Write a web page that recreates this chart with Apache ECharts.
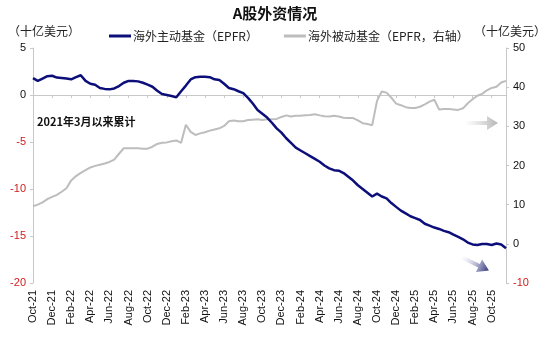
<!DOCTYPE html>
<html>
<head>
<meta charset="utf-8">
<script src="https://cdn.jsdelivr.net/npm/echarts@6/dist/echarts.min.js"></script>
<style>html,body{margin:0;padding:0;background:#fff}#c{width:550px;height:341px}</style>
</head>
<body>
<div id="c"></div>
<script>
const months = ['Oct-21','Nov-21','Dec-21',
'Jan-22','Feb-22','Mar-22','Apr-22','May-22','Jun-22','Jul-22','Aug-22','Sep-22','Oct-22','Nov-22','Dec-22',
'Jan-23','Feb-23','Mar-23','Apr-23','May-23','Jun-23','Jul-23','Aug-23','Sep-23','Oct-23','Nov-23','Dec-23',
'Jan-24','Feb-24','Mar-24','Apr-24','May-24','Jun-24','Jul-24','Aug-24','Sep-24','Oct-24','Nov-24','Dec-24',
'Jan-25','Feb-25','Mar-25','Apr-25','May-25','Jun-25','Jul-25','Aug-25','Sep-25','Oct-25','Nov-25'];
// two points per month (1st and mid-month)
const categories = [];
months.forEach(m => { categories.push(m); categories.push(m + ' '); });

// 海外主动基金（EPFR）, left axis, 十亿美元
const activeFund = [
1.8,1.5,1.75,2.0,2.05,1.85,1.8,1.75,1.67,1.9,
2.1,1.5,1.2,1.1,0.75,0.65,0.6,0.7,0.95,1.3,
1.5,1.5,1.45,1.3,1.1,0.88,0.45,0.1,0.0,-0.1,
-0.25,0.4,1.0,1.65,1.9,1.95,1.95,1.9,1.67,1.6,
1.2,0.75,0.62,0.4,0.2,-0.3,-0.9,-1.6,-2.0,-2.4,
-2.95,-3.55,-4.0,-4.6,-5.1,-5.6,-5.9,-6.2,-6.5,-6.8,
-7.1,-7.5,-7.8,-8.0,-8.05,-8.3,-8.7,-9.1,-9.6,-10.0,
-10.4,-10.8,-10.5,-10.8,-11.0,-11.5,-11.9,-12.3,-12.6,-12.9,
-13.1,-13.3,-13.7,-13.9,-14.1,-14.25,-14.45,-14.6,-14.85,-15.1,
-15.35,-15.7,-15.9,-15.95,-15.85,-15.85,-15.95,-15.8,-15.9,-16.3];

// 海外被动基金（EPFR，右轴）, right axis, 十亿美元
const passiveFund = [
9.6,10.0,10.6,11.4,12.0,12.5,13.3,14.2,16.2,17.3,
18.1,18.8,19.5,19.9,20.2,20.5,20.9,21.5,23.0,24.4,
24.4,24.4,24.4,24.3,24.3,24.8,25.5,25.8,25.9,26.2,
26.4,25.8,30.4,28.6,27.8,28.2,28.5,28.9,29.2,29.5,
30.1,31.3,31.5,31.3,31.3,31.6,31.7,31.8,31.6,31.8,
31.8,31.9,32.4,32.8,32.5,32.7,32.7,32.8,32.9,33.1,
32.8,32.6,32.5,32.7,32.5,32.2,32.1,32.1,31.5,30.8,
30.6,30.3,36.5,38.9,38.6,37.3,35.8,35.4,34.9,34.7,
34.7,35.0,35.6,36.3,36.8,34.3,34.4,34.4,34.3,34.2,
34.6,35.9,36.9,37.8,38.3,39.2,39.8,40.1,41.2,41.6];

const seriesNames = ['海外主动基金（EPFR）', '海外被动基金（EPFR，右轴）'];
const titleText = 'A股外资情况';
const unitText = '（十亿美元）';
const noteText = '2021年3月以来累计';

const latin = '"Liberation Sans", Arial, "Noto Sans CJK SC", sans-serif';
const cjk = '"Noto Sans CJK SC", "Liberation Sans", sans-serif';
const red = '#d01c1c';

const chart = echarts.init(document.getElementById('c'), null, {renderer: 'canvas'});
chart.setOption({
  animation: false,
  backgroundColor: '#fff',
  title: {
    text: titleText, left: 'center', top: 1,
    textStyle: {fontFamily: cjk, fontSize: 15, fontWeight: 'bold', color: '#111'}
  },
  legend: {
    top: 25, left: 104, itemGap: 26, itemWidth: 22, itemHeight: 3, icon: 'rect',
    textStyle: {fontFamily: cjk, fontSize: 12, color: '#222', padding: [0,0,0,-3]},
    data: seriesNames
  },
  grid: {left: 33, right: 44, top: 48, bottom: 58, containLabel: false},
  xAxis: [{
    type: 'category', data: categories, boundaryGap: false,
    axisLine: {show: false, onZero: false}, axisTick: {show: false},
    axisLabel: {interval: 3, rotate: 90, margin: 7, fontFamily: latin, fontSize: 11, color: '#111'}
  }, {
    type: 'category', data: categories, boundaryGap: false, position: 'bottom',
    axisLine: {show: true, onZero: true, onZeroAxisIndex: 0, lineStyle: {color: '#c8c8c8', width: 1}},
    axisTick: {show: true, interval: 3, length: 3, lineStyle: {color: '#c8c8c8'}},
    axisLabel: {show: false}, splitLine: {show: false}
  }],
  yAxis: [{
    type: 'value', min: -20, max: 5, interval: 5, position: 'left',
    axisLine: {show: true, lineStyle: {color: '#c8c8c8'}},
    axisTick: {show: true, length: 3, lineStyle: {color: '#c8c8c8'}},
    splitLine: {show: false},
    axisLabel: {margin: 7, fontFamily: latin, fontSize: 11,
      color: v => (Number(v) < 0 ? red : '#111')}
  }, {
    type: 'value', min: -10, max: 50, interval: 10, position: 'right',
    axisLine: {show: true, lineStyle: {color: '#c8c8c8'}},
    axisTick: {show: true, length: 3, lineStyle: {color: '#c8c8c8'}},
    splitLine: {show: false},
    axisLabel: {margin: 7, fontFamily: latin, fontSize: 11,
      color: v => (Number(v) < 0 ? red : '#111')}
  }],
  series: [{
    name: seriesNames[0], type: 'line', data: activeFund, xAxisIndex: 0, yAxisIndex: 0,
    showSymbol: false, symbol: 'none', smooth: false,
    lineStyle: {color: '#0c0f7a', width: 2.5}, itemStyle: {color: '#0c0f7a'}, z: 3
  }, {
    name: seriesNames[1], type: 'line', data: passiveFund, xAxisIndex: 0, yAxisIndex: 1,
    showSymbol: false, symbol: 'none', smooth: false,
    lineStyle: {color: '#bdbdbd', width: 2}, itemStyle: {color: '#bdbdbd'}, z: 2
  }],
  graphic: [
    {type: 'text', left: 8, top: 25, style: {text: unitText, fontFamily: cjk, fontSize: 12, fill: '#222'}},
    {type: 'text', right: 4, top: 25, style: {text: unitText, fontFamily: cjk, fontSize: 12, fill: '#222'}},
    {type: 'text', left: 37, top: 116, style: {text: noteText, fontFamily: cjk, fontSize: 11, fontWeight: 'bold', fill: '#111'}},
    {type: 'polygon', shape: {points: [[0,3],[22,3],[22,-2],[33,5],[22,12],[22,7],[0,7]]},
     x: 465, y: 118,
     style: {fill: new echarts.graphic.LinearGradient(0,0,1,0,[{offset:0,color:'rgba(200,200,200,0)'},{offset:1,color:'#b5b5b5'}])}},
    {type: 'polygon', shape: {points: [[0,-2],[20,-2],[20,-7],[31,0],[20,7],[20,2],[0,2]]},
     x: 461, y: 257, rotation: -0.45,
     style: {fill: new echarts.graphic.LinearGradient(0,0,1,0,[{offset:0,color:'rgba(200,200,230,0)'},{offset:1,color:'#2e3377'}])}}
  ]
});
</script>
</body>
</html>
